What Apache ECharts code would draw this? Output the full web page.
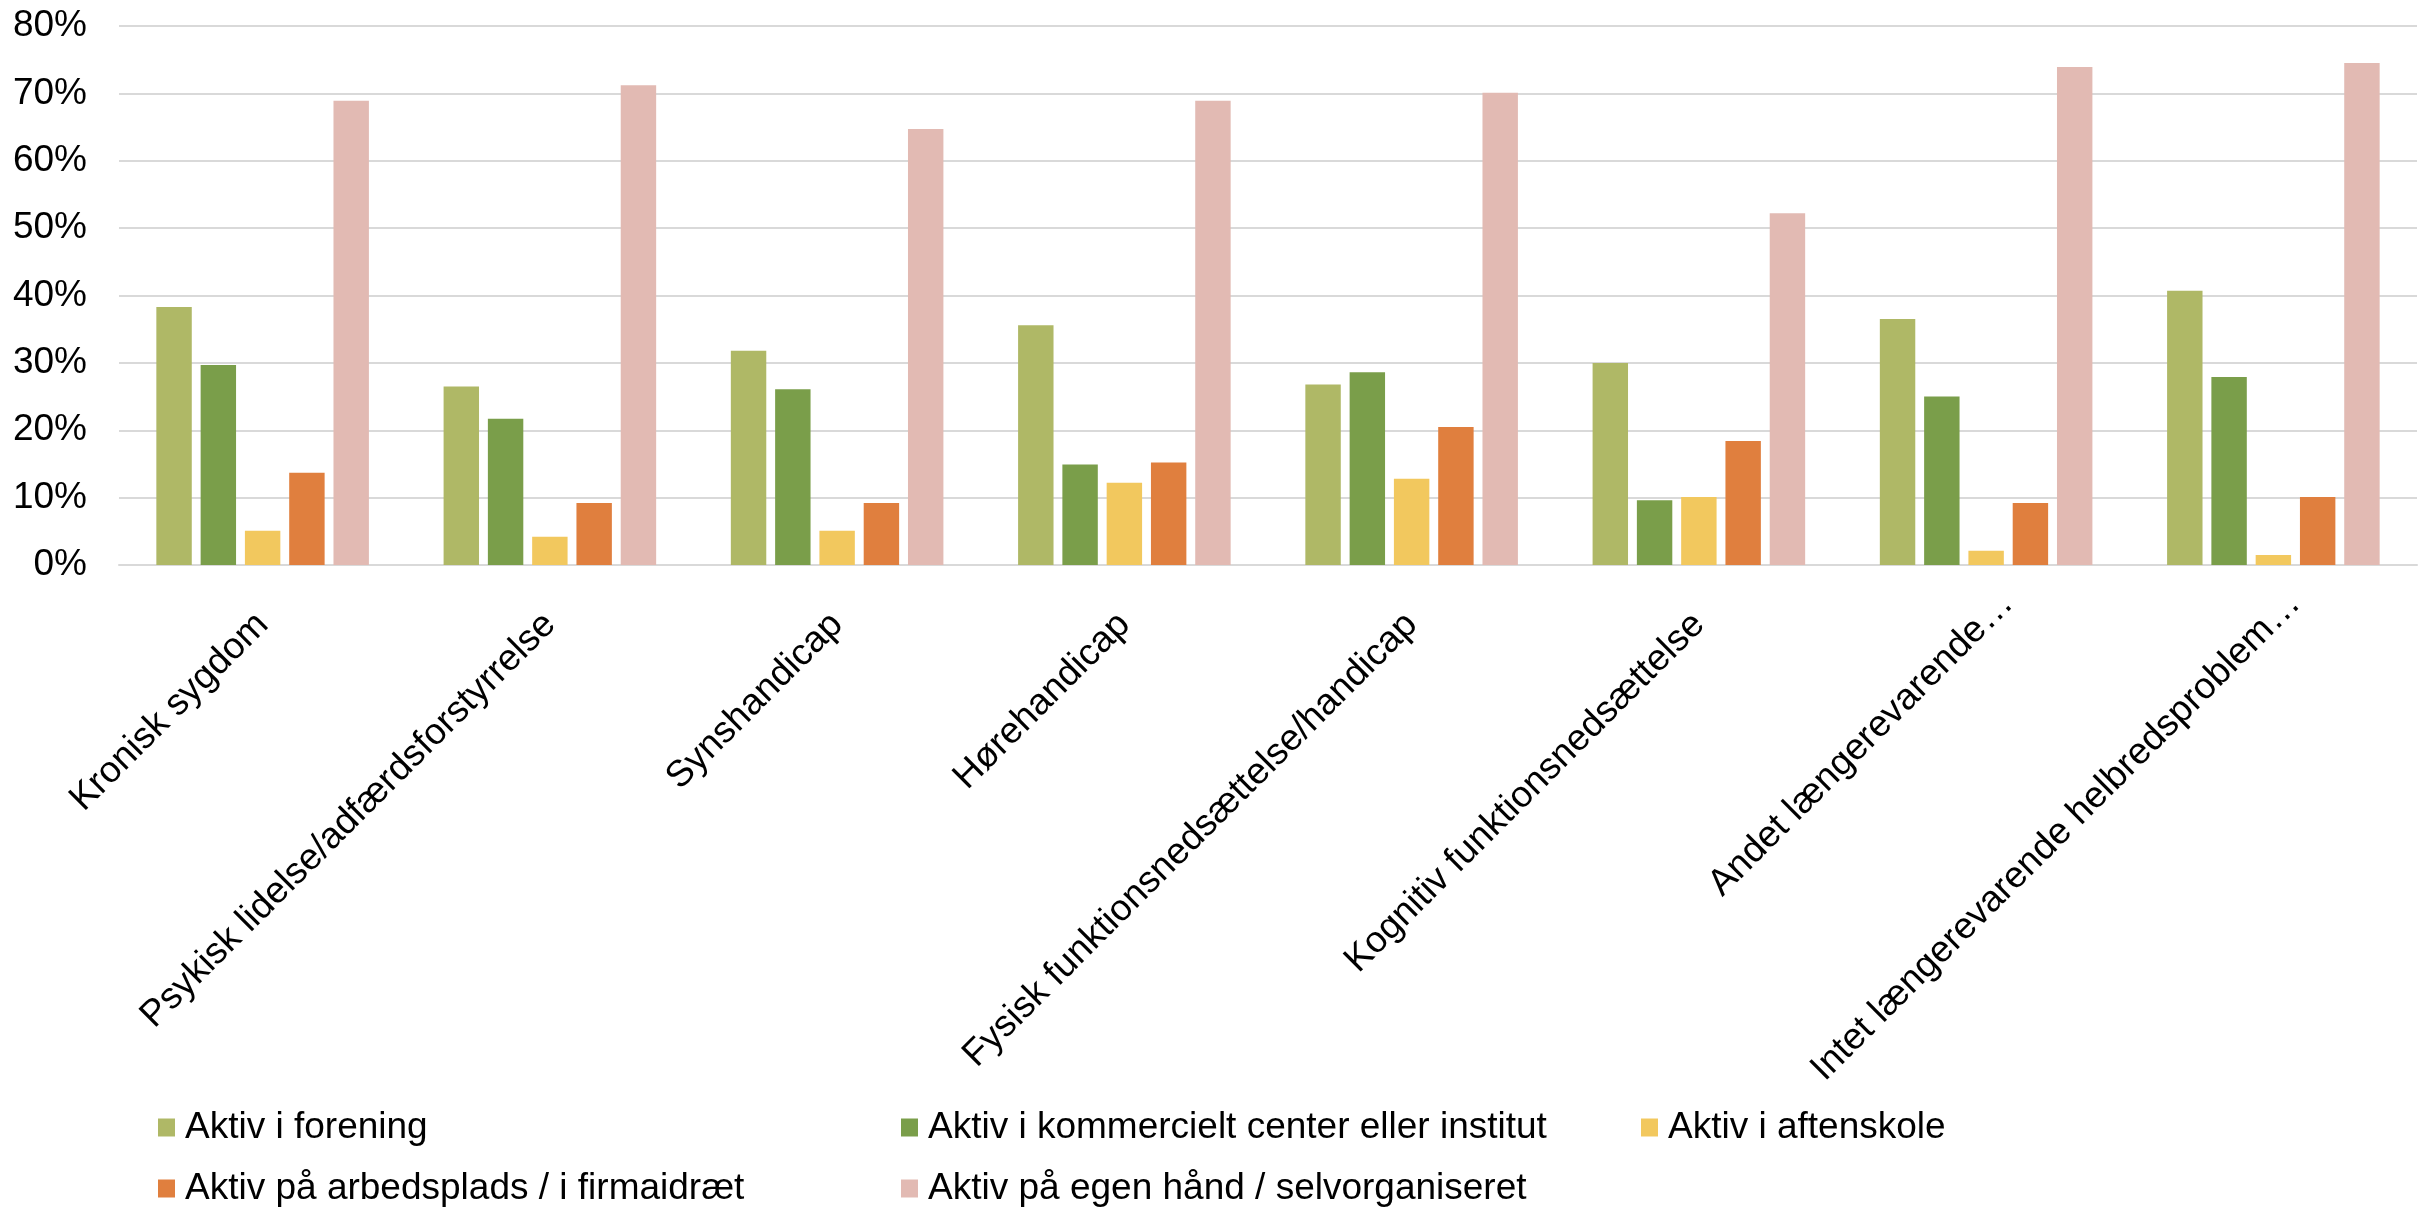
<!DOCTYPE html>
<html>
<head>
<meta charset="utf-8">
<script src="https://cdn.jsdelivr.net/npm/echarts@6/dist/echarts.min.js"></script>
<style>
  html, body { margin: 0; padding: 0; background: #fff; }
  #chart { width: 2433px; height: 1210px; }
</style>
</head>
<body>
<div id="chart"></div>
<script>
// Categories (health conditions)
const categories = [
  'Kronisk sygdom',
  'Psykisk lidelse/adfærdsforstyrrelse',
  'Synshandicap',
  'Hørehandicap',
  'Fysisk funktionsnedsættelse/handicap',
  'Kognitiv funktionsnedsættelse',
  'Andet længerevarende…',
  'Intet længerevarende helbredsproblem…'
];

// Share (%) active in each setting
const forening      = [38.3, 26.5, 31.8, 35.6, 26.8, 30.0, 36.5, 40.7];
const kommercielt   = [29.7, 21.7, 26.1, 14.9, 28.6, 9.6, 25.0, 27.9];
const aftenskole    = [5.1, 4.2, 5.1, 12.2, 12.8, 10.1, 2.1, 1.5];
const arbejdsplads  = [13.7, 9.2, 9.2, 15.2, 20.5, 18.4, 9.2, 10.1];
const egenHaand     = [68.9, 71.2, 64.7, 68.9, 70.1, 52.2, 73.9, 74.5];

const seriesNames = [
  'Aktiv i forening',
  'Aktiv i kommercielt center eller institut',
  'Aktiv i aftenskole',
  'Aktiv på arbedsplads / i firmaidræt',
  'Aktiv på egen hånd / selvorganiseret'
];
const seriesData = [forening, kommercielt, aftenskole, arbejdsplads, egenHaand];
const colors = ['#afb866', '#7a9e4a', '#f2c85e', '#e07f3e', '#e2bab3'];

const yTicks = { min: 0, max: 80, interval: 10 };

const fontFamily = '"Liberation Sans", Arial, sans-serif';
const fontSize = 37;
const textColor = '#000';

// Truncated labels (ending in an ellipsis) sit a little further along the slant
const xAxisData = categories.map(name => name.endsWith('…')
  ? { value: name, textStyle: { padding: [0, -30, 0, 0] } }
  : name);

// One legend block per entry, laid out in a 3-column grid
const legendPos = [
  { left: 158, top: 1109 },
  { left: 901, top: 1109 },
  { left: 1641, top: 1109 },
  { left: 158, top: 1170 },
  { left: 901, top: 1170 }
];
const legends = seriesNames.map((name, i) => ({
  data: [name],
  left: legendPos[i].left,
  top: legendPos[i].top,
  itemWidth: 17,
  itemHeight: 18,
  itemGap: 0,
  icon: 'rect',
  selectedMode: false,
  padding: 0,
  textStyle: { fontFamily, fontSize, color: textColor, padding: [0, 0, 0, 5] }
}));

const chart = echarts.init(document.getElementById('chart'), null, { renderer: 'canvas' });
chart.setOption({
  animation: false,
  color: colors,
  legend: legends,
  grid: { left: 119, right: 16, top: 26, bottom: 645, containLabel: false },
  xAxis: {
    type: 'category',
    data: xAxisData,
    axisTick: { show: false },
    axisLine: { show: true, lineStyle: { color: '#d9d9d9', width: 2 } },
    axisLabel: {
      rotate: 45,
      interval: 0,
      margin: 54,
      fontFamily,
      fontSize,
      color: textColor
    }
  },
  yAxis: {
    type: 'value',
    min: yTicks.min,
    max: yTicks.max,
    interval: yTicks.interval,
    axisLine: { show: false },
    axisTick: { show: false },
    splitLine: { lineStyle: { color: '#d9d9d9', width: 2 } },
    axisLabel: {
      formatter: '{value}%',
      margin: 32,
      fontFamily,
      fontSize,
      color: textColor
    }
  },
  series: seriesNames.map((name, i) => ({
    name,
    type: 'bar',
    data: seriesData[i],
    barGap: '25%',
    barCategoryGap: '26%'
  }))
});
</script>
</body>
</html>
